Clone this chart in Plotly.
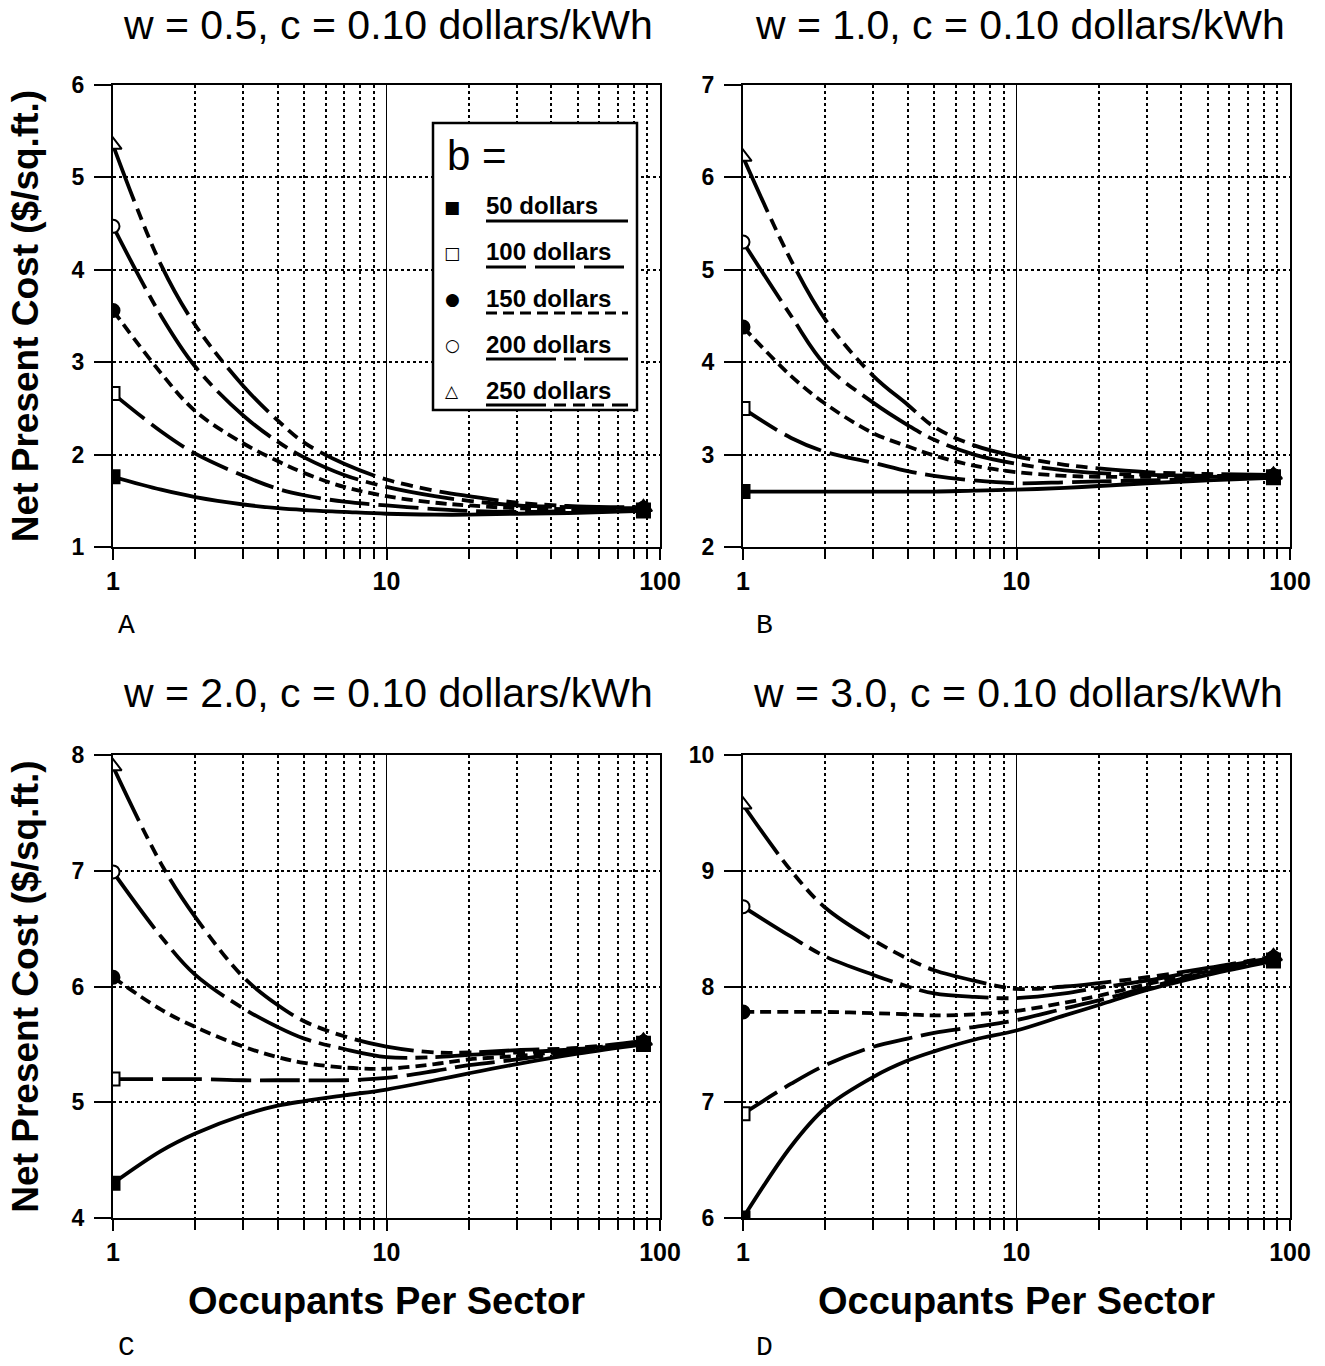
import plotly.graph_objects as go

# ---------------- data ----------------
occupants = [1, 1.5, 2, 3, 4, 5, 7, 10, 15, 20, 30, 50, 87]
b_names = ["50 dollars", "100 dollars", "150 dollars", "200 dollars", "250 dollars"]

# Panel A: w = 0.5
a_b50 = [1.76, 1.62, 1.54, 1.46, 1.42, 1.40, 1.38, 1.36, 1.35, 1.35, 1.36, 1.37, 1.39]
a_b100 = [2.66, 2.25, 2.01, 1.77, 1.63, 1.56, 1.49, 1.45, 1.41, 1.39, 1.38, 1.39, 1.40]
a_b150 = [3.56, 2.88, 2.47, 2.12, 1.93, 1.80, 1.65, 1.55, 1.48, 1.45, 1.42, 1.41, 1.41]
a_b200 = [4.47, 3.50, 2.95, 2.42, 2.14, 1.97, 1.78, 1.65, 1.55, 1.50, 1.45, 1.43, 1.42]
a_b250 = [5.35, 4.05, 3.40, 2.74, 2.37, 2.13, 1.90, 1.73, 1.61, 1.55, 1.48, 1.44, 1.43]

# Panel B: w = 1.0
b_b50 = [2.60, 2.60, 2.60, 2.60, 2.60, 2.60, 2.61, 2.62, 2.64, 2.66, 2.69, 2.72, 2.75]
b_b100 = [3.50, 3.18, 3.03, 2.91, 2.82, 2.77, 2.72, 2.69, 2.70, 2.71, 2.72, 2.74, 2.76]
b_b150 = [4.38, 3.85, 3.55, 3.23, 3.09, 2.99, 2.88, 2.81, 2.77, 2.76, 2.76, 2.76, 2.77]
b_b200 = [5.30, 4.50, 3.97, 3.56, 3.32, 3.16, 3.00, 2.90, 2.83, 2.80, 2.78, 2.77, 2.77]
b_b250 = [6.22, 5.10, 4.46, 3.85, 3.54, 3.30, 3.10, 2.98, 2.89, 2.85, 2.81, 2.79, 2.78]

# Panel C: w = 2.0
c_b50 = [4.30, 4.58, 4.73, 4.89, 4.97, 5.01, 5.06, 5.11, 5.19, 5.25, 5.33, 5.42, 5.50]
c_b100 = [5.20, 5.20, 5.20, 5.19, 5.19, 5.19, 5.19, 5.21, 5.27, 5.32, 5.37, 5.44, 5.51]
c_b150 = [6.08, 5.80, 5.65, 5.48, 5.39, 5.34, 5.30, 5.29, 5.33, 5.37, 5.40, 5.45, 5.51]
c_b200 = [6.99, 6.43, 6.10, 5.81, 5.65, 5.55, 5.46, 5.39, 5.39, 5.41, 5.43, 5.46, 5.52]
c_b250 = [7.90, 7.06, 6.60, 6.08, 5.84, 5.70, 5.57, 5.48, 5.43, 5.43, 5.45, 5.47, 5.53]

# Panel D: w = 3.0
d_b50 = [6.00, 6.62, 6.95, 7.22, 7.36, 7.44, 7.54, 7.62, 7.75, 7.84, 7.97, 8.10, 8.22]
d_b100 = [6.90, 7.16, 7.32, 7.48, 7.55, 7.60, 7.65, 7.71, 7.81, 7.88, 7.99, 8.12, 8.23]
d_b150 = [7.78, 7.78, 7.78, 7.77, 7.76, 7.75, 7.76, 7.79, 7.86, 7.92, 8.02, 8.13, 8.24]
d_b200 = [8.69, 8.43, 8.26, 8.10, 8.00, 7.94, 7.91, 7.90, 7.94, 7.99, 8.05, 8.15, 8.25]
d_b250 = [9.57, 9.00, 8.68, 8.40, 8.24, 8.14, 8.05, 7.98, 8.00, 8.03, 8.08, 8.16, 8.26]

panel_titles = ["w = 0.5, c = 0.10 dollars/kWh", "w = 1.0, c = 0.10 dollars/kWh",
                "w = 2.0, c = 0.10 dollars/kWh", "w = 3.0, c = 0.10 dollars/kWh"]
panel_letters = ["A", "B", "C", "D"]
y_ranges = [[1, 6], [2, 7], [4, 8], [6, 10]]
x_tick_vals = [1, 10, 100]
x_tick_text = ["1", "10", "100"]
x_minor_vals = [2, 3, 4, 5, 6, 7, 8, 9, 20, 30, 40, 50, 60, 70, 80, 90]
y_title = "Net Present Cost ($/sq.ft.)"
x_title = "Occupants Per Sector"

panels = [
    [a_b50, a_b100, a_b150, a_b200, a_b250],
    [b_b50, b_b100, b_b150, b_b200, b_b250],
    [c_b50, c_b100, c_b150, c_b200, c_b250],
    [d_b50, d_b100, d_b150, d_b200, d_b250],
]

# ---------------- styles ----------------
dashes = ["solid", "40px,9px", "11px,6px", "70px,8px,12px,8px",
          "60px,8px,12px,7px,12px,7px,12px,8px"]
symbols = ["square", "square", "circle", "circle", "triangle-up"]
fills = ["black", "white", "black", "white", "white"]
legend_glyphs = ["\u25A0", "\u25A1", "\u25CF", "\u25CB", "\u25B3"]
W, H = 1325, 1366
FONT = "Liberation Sans"


def px(v):
    return v / W


def py(v):
    return 1 - v / H


# pixel geometry of plot areas (left, right, top, bottom)
boxes = [(113, 660, 85, 547), (743, 1290, 85, 547),
         (113, 660, 755, 1218), (743, 1290, 755, 1218)]

fig = go.Figure()
n = len(occupants)
for p, series in enumerate(panels):
    xa = "x" if p == 0 else f"x{p+1}"
    ya = "y" if p == 0 else f"y{p+1}"
    for k in range(4, -1, -1):
        big = 15 if k == 4 else 13
        fig.add_trace(go.Scatter(
            x=occupants, y=series[k], xaxis=xa, yaxis=ya, mode="lines",
            name=b_names[k], showlegend=False, hoverinfo="skip",
            line=dict(color="black", width=3.8, dash=dashes[k], shape="spline", smoothing=1.0),
        ))
        fig.add_trace(go.Scatter(
            x=[occupants[0], occupants[-1]], y=[series[k][0], series[k][-1]],
            xaxis=xa, yaxis=ya, mode="markers", name=b_names[k], showlegend=False,
            marker=dict(symbol=symbols[k], size=big, color=fills[k],
                        line=dict(color="black", width=2)),
        ))

layout = dict(
    template="none",
    width=W, height=H, paper_bgcolor="white", plot_bgcolor="white",
    margin=dict(l=0, r=0, t=0, b=0, pad=0), showlegend=False,
    font=dict(family=FONT, color="black"),
)
for p, (l, r, t, b) in enumerate(boxes):
    xk = "xaxis" if p == 0 else f"xaxis{p+1}"
    yk = "yaxis" if p == 0 else f"yaxis{p+1}"
    ya = "y" if p == 0 else f"y{p+1}"
    xa = "x" if p == 0 else f"x{p+1}"
    layout[xk] = dict(
        type="log", range=[0, 2], domain=[px(l), px(r)], anchor=ya, automargin=False,
        tickvals=x_tick_vals, ticktext=x_tick_text, ticks="outside", ticklen=11,
        tickwidth=2, tickcolor="black", showline=True, linewidth=2.2, linecolor="black",
        mirror=True, showgrid=True, gridcolor="black", gridwidth=1, zeroline=False,
        ticklabelstandoff=0,
        tickfont=dict(family=FONT, size=25, weight="bold", color="black"),
        minor=dict(tickvals=x_minor_vals, ticks="outside", ticklen=10, tickwidth=1.5,
                   tickcolor="black", showgrid=True, gridcolor="black", gridwidth=1.6,
                   griddash="dot"),
        title=dict(text=x_title if p >= 2 else "",
                   font=dict(family=FONT, size=38, weight="bold", color="black"),
                   standoff=22),
    )
    layout[yk] = dict(
        range=y_ranges[p], domain=[py(b), py(t)], anchor=xa, dtick=1, automargin=False,
        ticks="outside", ticklen=17, tickwidth=2, tickcolor="black",
        showline=True, linewidth=2.2, linecolor="black", mirror=True,
        showgrid=True, gridcolor="black", gridwidth=1.6, griddash="dot", zeroline=False,
        ticklabelstandoff=5,
        tickfont=dict(family=FONT, size=23, weight="bold", color="black"),
        title=dict(text=y_title if p in (0, 2) else "",
                   font=dict(family=FONT, size=37, weight="bold", color="black"),
                   standoff=22),
    )

annotations = []
title_pos = [(388, 0), (1020, 0), (388, 668), (1018, 668)]
letter_pos = [(126, 626), (764, 626), (126, 1347), (764, 1347)]
for p in range(4):
    annotations.append(dict(text=panel_titles[p], x=px(title_pos[p][0]), y=py(title_pos[p][1]),
                            xref="paper", yref="paper", showarrow=False,
                            font=dict(family=FONT, size=41, color="black"), xanchor="center",
                            yanchor="top"))
    annotations.append(dict(text=panel_letters[p], x=px(letter_pos[p][0]), y=py(letter_pos[p][1]),
                            xref="paper", yref="paper", showarrow=False,
                            font=dict(family="Liberation Mono", size=28, color="black"),
                            xanchor="center", yanchor="middle"))

# custom legend in panel A
shapes = [dict(type="rect", xref="paper", yref="paper", x0=px(433), x1=px(637),
               y0=py(410), y1=py(123), line=dict(color="black", width=2.5),
               fillcolor="white", layer="above")]
annotations.append(dict(text="b =", x=px(445), y=py(156), xref="paper", yref="paper",
                        showarrow=False, xanchor="left", yanchor="middle",
                        font=dict(family=FONT, size=42, color="black")))
rows = [207, 253, 299, 345, 391]
for k in range(5):
    yy = rows[k]
    annotations.append(dict(text=legend_glyphs[k], x=px(452), y=py(yy), xref="paper",
                            yref="paper", showarrow=False, xanchor="center", yanchor="middle",
                            font=dict(family="DejaVu Sans", size=17, color="black")))
    annotations.append(dict(text=b_names[k], x=px(484), y=py(yy - 1), xref="paper",
                            yref="paper", showarrow=False, xanchor="left", yanchor="middle",
                            font=dict(family=FONT, size=24, weight="bold", color="black")))
    shapes.append(dict(type="line", xref="paper", yref="paper", x0=px(486), x1=px(628),
                       y0=py(yy + 14), y1=py(yy + 14),
                       line=dict(color="black", width=3, dash=dashes[k]), layer="above"))

layout["annotations"] = annotations
layout["shapes"] = shapes
fig.update_layout(**layout)
fig.write_html("out.html", config={"displayModeBar": False},
               post_script="document.body.style.margin='0px';")
